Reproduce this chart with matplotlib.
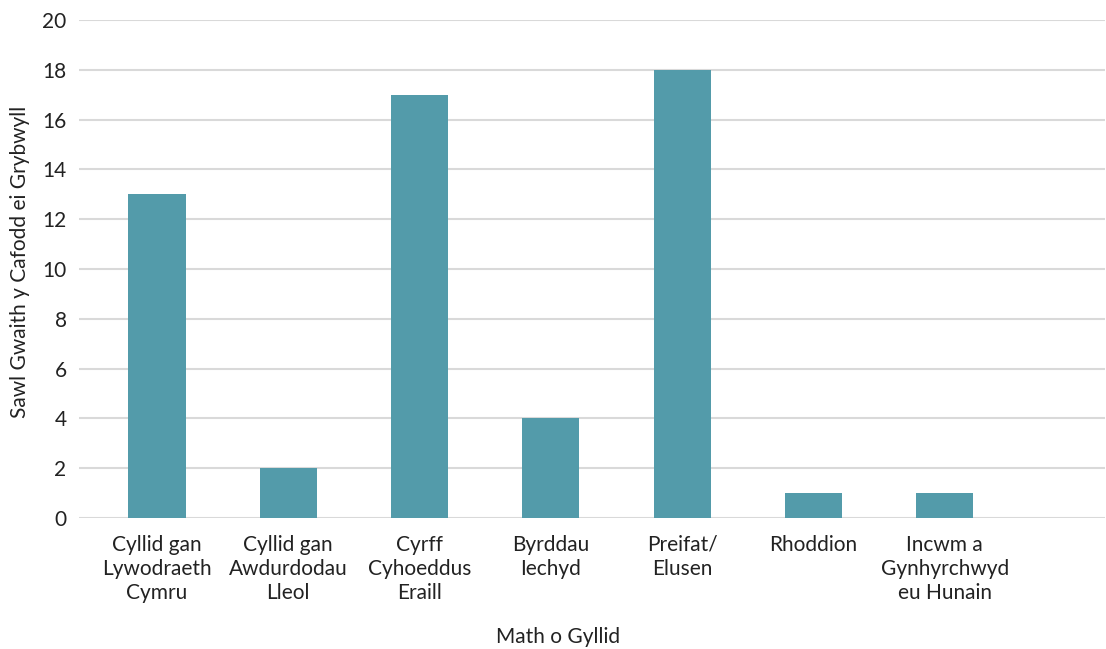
import matplotlib
matplotlib.use("Agg")
import matplotlib.pyplot as plt

categories = ["Cyllid gan\nLywodraeth\nCymru", "Cyllid gan\nAwdurdodau\nLleol",
              "Cyrff\nCyhoeddus\nEraill", "Byrddau\nIechyd", "Preifat/\nElusen",
              "Rhoddion", "Incwm a\nGynhyrchwyd\neu Hunain"]
values = [13, 2, 17, 4, 18, 1, 1]
yticks = [0, 2, 4, 6, 8, 10, 12, 14, 16, 18, 20]

plt.rcParams['font.family'] = ['Lato', 'DejaVu Sans']
W, H = 1106, 649
fig = plt.figure(figsize=(W/100, H/100), dpi=100)
ax = fig.add_axes([79/W, 1-518/H, (1105-79)/W, (518-20)/H])

x = list(range(len(categories)))
ax.bar(x, values, width=0.435, color="#539BAA", zorder=3)

ax.set_ylim(0, 20)
ax.set_yticks(yticks)
ax.set_xlim(-0.594, 7.22)
ax.set_xticks(x)
ax.set_xticklabels(categories, fontsize=15, color="#222222", linespacing=1.25)
ax.tick_params(axis='y', labelsize=15, colors="#222222", length=0, pad=9)
ax.tick_params(axis='x', length=0, pad=12)

ax.grid(axis='y', color="#d9d9d9", linewidth=1.5, zorder=0)
for s in ax.spines.values():
    s.set_visible(False)

fig.text(20/W, 1-262/H, "Sawl Gwaith y Cafodd ei Grybwyll", rotation=90,
         ha='center', va='center', fontsize=15, color="#222222")
fig.text(558/W, 1-637/H, "Math o Gyllid", ha='center', va='center',
         fontsize=15, color="#222222")

fig.savefig("out.png", dpi=100)
